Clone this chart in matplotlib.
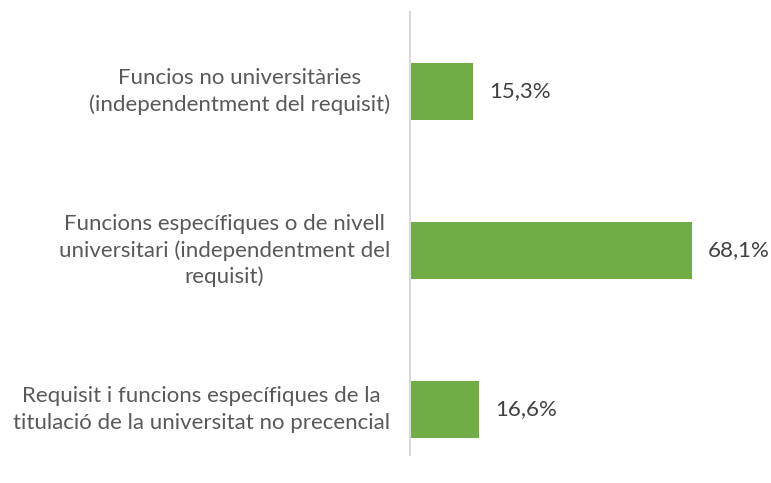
import matplotlib.pyplot as plt

categories = [
    "Funcios no universitàries\n(independentment del requisit)",
    "Funcions específiques o de nivell\nuniversitari (independentment del\nrequisit)",
    "Requisit i funcions específiques de la\ntitulació de la universitat no precencial",
]
values = [15.3, 68.1, 16.6]
value_labels = ["15,3%", "68,1%", "16,6%"]

W, H = 771, 483
fig = plt.figure(figsize=(W / 100, H / 100), dpi=100)
ax = fig.add_axes([410 / W, 1 - 455 / H, 350 / W, 443 / H])

font = ["Lato", "DejaVu Sans"]
pos = list(range(len(categories)))
ax.barh(pos, values, height=0.36, color="#70AD47")
ax.set_ylim(2.286, -0.5)
ax.set_xlim(0, 350 / 4.14)

for s in ["top", "right", "bottom"]:
    ax.spines[s].set_visible(False)
ax.spines["left"].set_color("#D9D9D9")
ax.spines["left"].set_linewidth(1.5)
ax.set_xticks([])
ax.set_yticks([])

for p, v, lab, cat in zip(pos, values, value_labels, categories):
    ax.text(v + 16 / 4.14, p, lab, va="center", ha="left",
            fontsize=16, color="#404040", family=font)
    ax.annotate(cat, xy=(0, p), xycoords=("axes fraction", "data"),
                xytext=(-20, 0), textcoords="offset pixels",
                ha="right", va="center", multialignment="center",
                fontsize=16, color="#595959", family=font, linespacing=1.38)

fig.savefig("out.png", dpi=100)
